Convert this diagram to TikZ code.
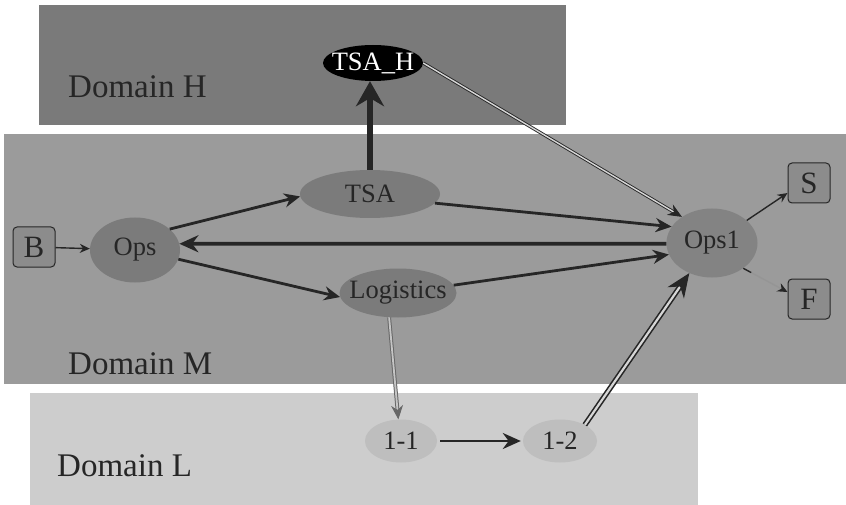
\documentclass[tikz,border=0pt]{standalone}
\usepackage{fontspec}
\setmainfont{Liberation Serif}
\usetikzlibrary{shapes.geometric,arrows.meta,calc}

\definecolor{hbg}{HTML}{7A7A7A}
\definecolor{mbg}{HTML}{9B9B9B}
\definecolor{lbg}{HTML}{CDCDCD}
\definecolor{nodeM}{HTML}{7B7B7B}
\definecolor{nodeO}{HTML}{838383}
\definecolor{nodeL}{HTML}{BEBEBE}
\definecolor{boxfill}{HTML}{8C8C8C}
\definecolor{ink}{HTML}{262626}
\definecolor{pale}{HTML}{D6D6D6}

\begin{document}
\begin{tikzpicture}[x=1pt,y=-1pt,
  dlabel/.style={anchor=base west, inner sep=0, text=ink,
    font=\fontsize{33}{33}\selectfont},
  oval/.style={ellipse, fill=nodeM, inner sep=0, text=ink,
    font=\fontsize{26.5}{26.5}\selectfont},
  lowoval/.style={oval, fill=nodeL},
  term/.style={rectangle, rounded corners=4pt, draw=ink, line width=1pt,
    fill=boxfill, minimum width=42pt, minimum height=40pt, inner sep=0,
    text=ink, font=\fontsize{31}{31}\selectfont},
  conn/.style={draw=ink, line width=2.8pt,
    -{Stealth[length=16pt,width=14pt]}},
  heavy/.style={conn, line width=3.8pt,
    -{Stealth[length=19pt,width=17pt]}},
  thin/.style={draw=ink, line width=1.4pt,
    -{Stealth[length=10pt,width=9pt]}},
  up/.style={draw=ink, line width=6pt,
    -{Stealth[length=25pt,width=28pt]}},
  dbl/.style={draw=ink, line width=0.9pt, double=pale, double distance=1.4pt,
    -{Stealth[length=14pt,width=12pt]}},
  dblheavy/.style={draw=ink, line width=1.6pt, double=pale, double distance=2.2pt,
    -{Stealth[length=24pt,width=20pt]}},
  greyline/.style={draw=ink!70, line width=1pt, double=pale!80!gray, double distance=1.8pt,
    -{Stealth[length=14pt,width=12pt]}},
  faint/.style={draw=mbg!96!black, line width=1.4pt,
    -{Stealth[length=10pt,width=9pt,color=ink]}},
]
\useasboundingbox (0,0) rectangle (846,505);

% domain bands
\fill[hbg] (39,5) rectangle (566,125);
\fill[mbg] (4,134) rectangle (846,384);
\fill[lbg] (30,393) rectangle (698,505);

\node[dlabel] (lblH) at (68,98) {Domain H};
\node[dlabel] (lblM) at (68,374) {Domain M};
\node[dlabel] (lblL) at (57,476) {Domain L};

% nodes
\node[oval, fill=black, text=white, minimum width=100pt, minimum height=36pt]
  (tsah) at (373,63) {\makebox[0pt]{TSA\_H}};
\node[oval, minimum width=140pt, minimum height=48pt] (tsa) at (370,194) {\makebox[0pt]{TSA}};
\node[oval, minimum width=90pt, minimum height=65pt] (ops) at (135,250) {\makebox[0pt]{Ops}};
\node[oval, minimum width=117pt, minimum height=49pt] (log) at (398,293) {\makebox[0pt]{Logistics}};
\node[oval, fill=nodeO, minimum width=91pt, minimum height=69pt] (ops1) at (712,243) {\makebox[0pt]{Ops1}};
\node[lowoval, minimum width=72pt, minimum height=43pt] (n11) at (401,441) {\makebox[0pt]{1-1}};
\node[lowoval, minimum width=74pt, minimum height=43pt] (n12) at (560,441) {\makebox[0pt]{1-2}};
\node[term] (b) at (34,247) {B};
\node[term] (s) at (809,183) {S};
\node[term] (f) at (809,299) {F};

% connectors
\draw[thin] (b) -- (ops);
\draw[conn] (ops.31) -- (tsa.182);
\draw[conn] (tsa.-8) -- (ops1.158);
\draw[heavy] (ops1.181) -- (ops.8);
\draw[conn] (ops.-12) -- (log.184);
\draw[conn] (log.8) -- (ops1.195);
\draw[up] (tsa.north) -- (tsa.north |- tsah.south);
\draw[dbl] (tsah.east) -- (ops1.139);
\draw[greyline] (log.250) -- (n11.97);
\draw[conn, -{Stealth[length=18pt,width=16pt]}] ([xshift=3pt]n11.east) -- ([xshift=-2pt]n12.west);
\draw[dblheavy] (n12.33) -- (ops1.233);
\draw[thin] (ops1.33) -- (s.205);
\draw[faint] (ops1.-39) -- (f.162);
\draw[draw=ink, line width=1.4pt] (ops1.-39) -- ($(ops1.-39)!9pt!(f.162)$);
\end{tikzpicture}
\end{document}
